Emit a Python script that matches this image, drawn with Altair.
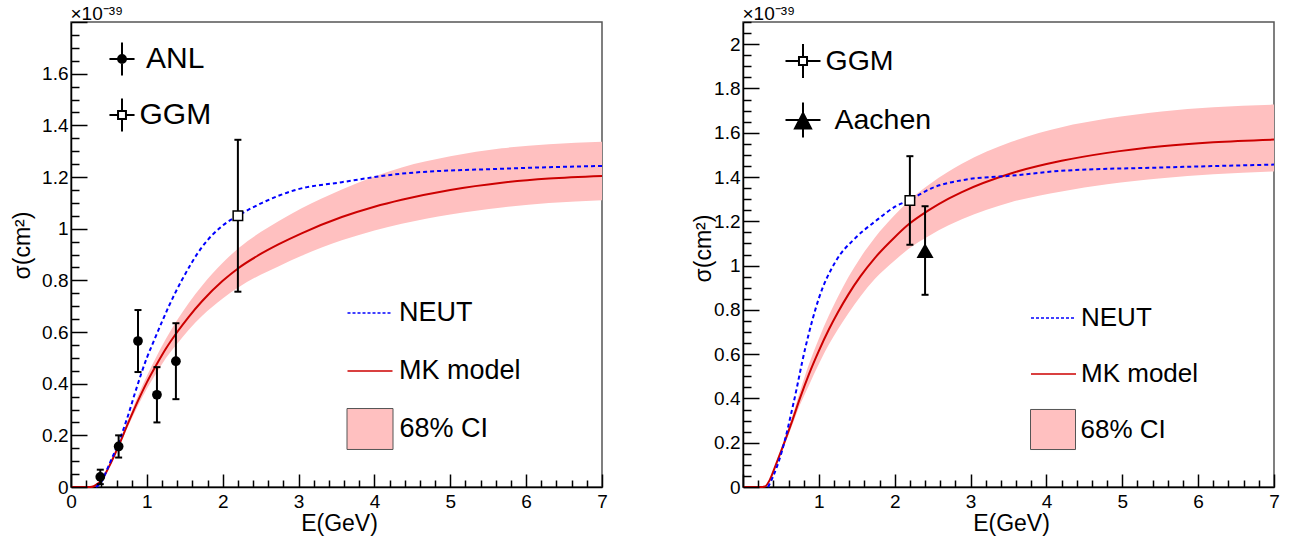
import altair as alt
import pandas as pd

FONT = "Liberation Sans"
RED = "#cc0000"
BLUE = "#0000ff"
PINK = "#ffc0c0"
W, H = 531, 465

# ---------------- left panel data (units of 1e-39 cm^2) ----------------
L_E = [0, 0.25, 0.3, 0.35, 0.4, 0.5, 0.63, 0.75, 0.89, 1.0, 1.13, 1.25, 1.4, 1.55,
       1.73, 2.0, 2.21, 2.5, 2.74, 3.04, 3.57, 4.0, 4.36, 5.0, 5.68, 6.3, 7.0]
L_MK = [0, 0, 0.003, 0.012, 0.026, 0.078, 0.161, 0.245, 0.338, 0.405, 0.475, 0.535, 0.600, 0.658,
        0.72, 0.798, 0.848, 0.902, 0.940, 0.982, 1.045, 1.085, 1.112, 1.150, 1.178, 1.194, 1.204]
L_HI = [0, 0, 0.003, 0.013, 0.028, 0.083, 0.169, 0.257, 0.358, 0.430, 0.507, 0.573, 0.646, 0.711,
        0.780, 0.868, 0.925, 0.987, 1.030, 1.079, 1.152, 1.202, 1.237, 1.280, 1.311, 1.327, 1.336]
L_LO = [0, 0, 0.003, 0.011, 0.024, 0.073, 0.153, 0.233, 0.318, 0.380, 0.443, 0.498, 0.555, 0.608,
        0.663, 0.730, 0.773, 0.822, 0.855, 0.895, 0.955, 0.993, 1.019, 1.055, 1.082, 1.099, 1.110]
L_NEUT_E = [0.33, 0.4, 0.5, 0.63, 0.75, 0.85, 1.0, 1.07, 1.2, 1.29, 1.46, 1.73, 1.99, 2.21,
            2.52, 2.96, 3.57, 4.36, 5.68, 7.0]
L_NEUT = [0, 0.02, 0.085, 0.174, 0.275, 0.37, 0.5, 0.55, 0.64, 0.70, 0.80, 0.93, 1.01, 1.052,
          1.10, 1.15, 1.18, 1.213, 1.232, 1.243]
ANL_E = [0.386, 0.628, 0.883, 1.133, 1.383]
ANL_S = [0.039, 0.157, 0.565, 0.357, 0.487]
ANL_ERR = [0.028, 0.043, 0.12, 0.107, 0.147]
GGM_L_E = [2.2]
GGM_L_S = [1.05]
GGM_L_ERR = [0.294]

# ---------------- right panel data ----------------
R_E = [0, 0.25, 0.29, 0.35, 0.43, 0.5, 0.65, 0.75, 0.87, 1.0, 1.13, 1.25, 1.39, 1.55, 1.74,
       2.0, 2.18, 2.45, 2.71, 2.885, 3.54, 4.2, 4.8, 5.52, 6.2, 7.0]
R_MK = [0, 0, 0.002, 0.03, 0.098, 0.16, 0.30, 0.40, 0.51, 0.615, 0.71, 0.788, 0.870, 0.952, 1.035,
        1.128, 1.185, 1.25, 1.302, 1.332, 1.417, 1.473, 1.509, 1.539, 1.557, 1.569]
R_HI = [0, 0, 0.002, 0.032, 0.106, 0.172, 0.32, 0.43, 0.555, 0.67, 0.773, 0.858, 0.948, 1.037, 1.127,
        1.228, 1.291, 1.365, 1.425, 1.46, 1.559, 1.625, 1.664, 1.696, 1.715, 1.727]
R_LO = [0, 0, 0.002, 0.028, 0.09, 0.148, 0.28, 0.37, 0.46, 0.555, 0.642, 0.711, 0.785, 0.862, 0.94,
        1.023, 1.075, 1.134, 1.182, 1.209, 1.287, 1.335, 1.367, 1.394, 1.412, 1.425]
R_NEUT_E = [0.33, 0.4, 0.51, 0.67, 0.82, 1.0, 1.22, 1.48, 1.74, 2.01, 2.2, 2.49, 2.93, 3.54,
            4.2, 5.52, 7.0]
R_NEUT = [0, 0.05, 0.158, 0.385, 0.626, 0.852, 1.018, 1.124, 1.199, 1.267, 1.297, 1.35, 1.388,
          1.406, 1.428, 1.443, 1.456]
GGM_R_E = [2.2]
GGM_R_S = [1.294]
GGM_R_ERR = [0.2]
AACH_E = [2.4]
AACH_S = [1.068]
AACH_ERR = [0.2]

# ---------------- ticks ----------------
X_MAJOR = list(range(0, 8))
X_MINOR = [round(i * 0.2, 2) for i in range(36) if i % 5 != 0]

# legend symbol paths (unit square -1..1), drawn with strokes only
P_ANL = ("M-0.76,0H0.76M0,-1V1"
         "M0.24,0A0.24,0.24,0,1,1,-0.24,0A0.24,0.24,0,1,1,0.24,0Z"
         "M0.15,0A0.15,0.15,0,1,1,-0.15,0A0.15,0.15,0,1,1,0.15,0Z"
         "M0.06,0A0.06,0.06,0,1,1,-0.06,0A0.06,0.06,0,1,1,0.06,0Z")
P_GGM_L = "M-0.76,0H-0.24M0.24,0H0.76M0,-1V-0.24M0,0.24V1M-0.24,-0.24H0.24V0.24H-0.24Z"
P_GGM_R = "M-1,0H-0.23M0.23,0H1M0,-0.97V-0.23M0,0.23V0.97M-0.23,-0.23H0.23V0.23H-0.23Z"
P_AACH = ("M-1,0H1M0,-1V1"
          "M0,-0.40L0.46,0.48L-0.46,0.48Z"
          "M0,-0.21L0.31,0.39L-0.31,0.39Z"
          "M0,-0.03L0.16,0.30L-0.16,0.30Z")
P_BOX = "M-1,-0.89H1V0.89H-1Z"


def leg(x, y, fs, off, **kw):
    return alt.Legend(orient="none", legendX=x, legendY=y, title=None, padding=0, offset=0,
                      labelFont=FONT, labelFontSize=fs, labelColor="black", labelOffset=off,
                      labelLimit=400, **kw)


def errs(E, S, ERR):
    return pd.DataFrame({"E": E, "s": S,
                         "lo": [s - e for s, e in zip(S, ERR)],
                         "hi": [s + e for s, e in zip(S, ERR)]})


def panel(c):
    xs = alt.Scale(domain=[0, 7], nice=False, zero=False)
    ys = alt.Scale(domain=[0, c["ymax"]], nice=False, zero=False)
    y_major = [round(i * 0.2, 2) for i in range(int(round(c["ymax"] / 0.2)) + 1)]
    y_minor = [round(i * 0.05, 2) for i in range(int(round(c["ymax"] / 0.05)) + 1) if i % 4 != 0]
    y_labels = [v for v in y_major if v < c["ymax"] - 0.05]

    ax_x_lab = alt.Axis(values=c["xlabels"], ticks=False, grid=False, domainColor="black",
                        domainWidth=1.5, labelFont=FONT, labelFontSize=19, labelColor="black",
                        labelPadding=5, labelFlush=False, labelOverlap=False, format="~g",
                        title="E(GeV)", titleFont=FONT, titleFontSize=23, titleFontWeight="normal",
                        titleColor="black", titleY=43, titleX=268, titleBaseline="alphabetic",
                        titleAlign="center", zindex=0)
    ax_x_maj = alt.Axis(orient="top", offset=-H, values=X_MAJOR, labels=False, domain=False,
                        grid=False, tickSize=13, tickColor="black", tickWidth=1.5, title=None,
                        zindex=1)
    ax_x_min = alt.Axis(orient="top", offset=-H, values=X_MINOR, labels=False, domain=False,
                        grid=False, tickSize=7, tickColor="black", tickWidth=1.5, title=None,
                        zindex=1)
    ax_y_lab = alt.Axis(values=y_labels, ticks=False,
                        grid=False, domainColor="black", domainWidth=1.5, labelFont=FONT,
                        labelFontSize=19, labelColor="black", labelPadding=3, labelFlush=False,
                        labelOverlap=False, format="~g", title="σ(cm²)", titleFont=FONT,
                        titleFontSize=23, titleFontWeight="normal", titleColor="black",
                        titleX=c["ytx"], titleY=c["yty"], titleAngle=270,
                        titleBaseline="alphabetic", titleAlign="center", zindex=0)
    ax_y_maj = alt.Axis(orient="right", offset=-W, values=y_major, labels=False, domain=False,
                        grid=False, tickSize=16, tickColor="black", tickWidth=1.5,
                        title="×10⁻³⁹", titleFont=FONT, titleFontSize=19,
                        titleFontWeight="normal", titleColor="black", titleAngle=0,
                        titleX=-1, titleY=-3, titleAlign="left", titleBaseline="alphabetic",
                        zindex=1)
    ax_y_min = alt.Axis(orient="right", offset=-W, values=y_minor, labels=False, domain=False,
                        grid=False, tickSize=8, tickColor="black", tickWidth=1.5, title=None,
                        zindex=1)

    band_df = pd.DataFrame({"E": c["E"], "lo": c["LO"], "hi": c["HI"], "name": "68% CI"})
    mk_df = pd.DataFrame({"E": c["E"], "s": c["MK"], "name": "MK model"})
    neut_df = pd.DataFrame({"E": c["NE"], "s": c["NS"], "name": "NEUT"})

    lg = c["leg"]
    band = alt.Chart(band_df).mark_area(opacity=1, interpolate="monotone").encode(
        x=alt.X("E:Q", scale=xs, axis=ax_x_lab),
        y=alt.Y("lo:Q", scale=ys, axis=ax_y_lab),
        y2="hi:Q",
        fill=alt.Fill("name:N", scale=alt.Scale(domain=["68% CI"], range=[PINK]),
                      legend=leg(*lg["ci"], symbolType=P_BOX, symbolSize=lg["ci_size"],
                                 symbolStrokeColor="#555555", symbolStrokeWidth=1)),
    )
    mk = alt.Chart(mk_df).mark_line(strokeWidth=2, interpolate="monotone").encode(
        x=alt.X("E:Q", scale=xs, axis=ax_x_maj),
        y=alt.Y("s:Q", scale=ys, axis=ax_y_maj),
        stroke=alt.Stroke("name:N", scale=alt.Scale(domain=["MK model"], range=[RED]),
                          legend=leg(*lg["mk"], symbolType="stroke", symbolSize=2025,
                                     symbolStrokeWidth=1.5)),
    )
    neut = alt.Chart(neut_df).mark_line(strokeWidth=2, strokeDash=[4, 3],
                                        interpolate="monotone").encode(
        x=alt.X("E:Q", scale=xs, axis=ax_x_min),
        y=alt.Y("s:Q", scale=ys, axis=ax_y_min),
        strokeDash=alt.value([4, 3]),
        stroke=alt.Stroke("name:N", scale=alt.Scale(domain=["NEUT"], range=[BLUE]),
                          legend=leg(*lg["neut"], symbolType="stroke", symbolSize=2025,
                                     symbolStrokeWidth=1.5, symbolDash=[3, 2])),
    )

    layers = [band, mk, neut]
    for d in c["data"]:
        df = errs(d["E"], d["S"], d["ERR"])
        df["name"] = d["name"]
        xe = alt.X("E:Q", scale=xs, axis=None)
        rule = alt.Chart(df).mark_rule(color="black", strokeWidth=2).encode(
            x=xe, y=alt.Y("lo:Q", scale=ys, axis=None), y2="hi:Q")
        cap_lo = alt.Chart(df).mark_tick(orient="horizontal", color="black", size=7,
                                          thickness=2, opacity=1).encode(
            x=xe, y=alt.Y("lo:Q", scale=ys, axis=None))
        cap_hi = alt.Chart(df).mark_tick(orient="horizontal", color="black", size=7,
                                          thickness=2, opacity=1).encode(
            x=xe, y=alt.Y("hi:Q", scale=ys, axis=None))
        pt = alt.Chart(df).mark_point(**d["mark"]).encode(
            x=xe, y=alt.Y("s:Q", scale=ys, axis=None))
        legl = alt.Chart(df).mark_point(opacity=0, filled=False, color="black",
                                        strokeWidth=2).encode(
            x=xe, y=alt.Y("s:Q", scale=ys, axis=None),
            shape=alt.Shape("name:N", scale=alt.Scale(domain=[d["name"]], range=[d["path"]]),
                            legend=leg(*d["leg"], symbolSize=d["lsize"], symbolOpacity=1,
                                       symbolStrokeColor="black", symbolStrokeWidth=2)),
        )
        layers += [rule, cap_lo, cap_hi, pt, legl]

    return alt.layer(*layers).resolve_axis(x="independent", y="independent").resolve_scale(
        fill="independent", stroke="independent", shape="independent").properties(
        width=W, height=H)


left = panel({
    "ymax": 1.8, "xlabels": X_MAJOR, "ytx": -42, "yty": 223,
    "E": L_E, "MK": L_MK, "LO": L_LO, "HI": L_HI, "NE": L_NEUT_E, "NS": L_NEUT,
    "leg": {"neut": (275.5, 267.5, 27, 5.5), "mk": (275.5, 325.5, 27, 5.5),
            "ci": (275.5, 383.5, 27, 6), "ci_size": 2116},
    "data": [
        {"name": "ANL", "E": ANL_E, "S": ANL_S, "ERR": ANL_ERR,
         "mark": dict(shape="circle", filled=True, color="black", size=95, opacity=1),
         "path": P_ANL, "lsize": 1089, "leg": (33.5, 19.5, 30, 6.5)},
        {"name": "GGM", "E": GGM_L_E, "S": GGM_L_S, "ERR": GGM_L_ERR,
         "mark": dict(shape="square", filled=True, fill="white", stroke="black", strokeWidth=1.5,
                      size=90, opacity=1),
         "path": P_GGM_L, "lsize": 1089, "leg": (33.5, 75.5, 30, 0)},
    ],
})

right = panel({
    "ymax": 2.1, "xlabels": X_MAJOR[1:], "ytx": -33, "yty": 226,
    "E": R_E, "MK": R_MK, "LO": R_LO, "HI": R_HI, "NE": R_NEUT_E, "NS": R_NEUT,
    "leg": {"neut": (287, 272.5, 26, 4), "mk": (287, 328.5, 26, 4),
            "ci": (287, 384.5, 26, 4.5), "ci_size": 2025},
    "data": [
        {"name": "GGM", "E": GGM_R_E, "S": GGM_R_S, "ERR": GGM_R_ERR,
         "mark": dict(shape="square", filled=True, fill="white", stroke="black", strokeWidth=1.5,
                      size=90, opacity=1),
         "path": P_GGM_R, "lsize": 1225, "leg": (41.5, 20.5, 28.5, 4)},
        {"name": "Aachen", "E": AACH_E, "S": AACH_S, "ERR": AACH_ERR,
         "mark": dict(shape="triangle-up", filled=True, color="black", size=289, opacity=1),
         "path": P_AACH, "lsize": 1225, "leg": (41.5, 79.5, 28.5, 13)},
    ],
})

chart = alt.hconcat(left, right, spacing=141, bounds="flush").configure_view(
    stroke="#555555", strokeWidth=1.5).properties(
    padding={"left": 10, "top": 3, "right": 5, "bottom": 5}, background="white")

chart.save("out.html", embed_options={"renderer": "svg", "actions": False})
